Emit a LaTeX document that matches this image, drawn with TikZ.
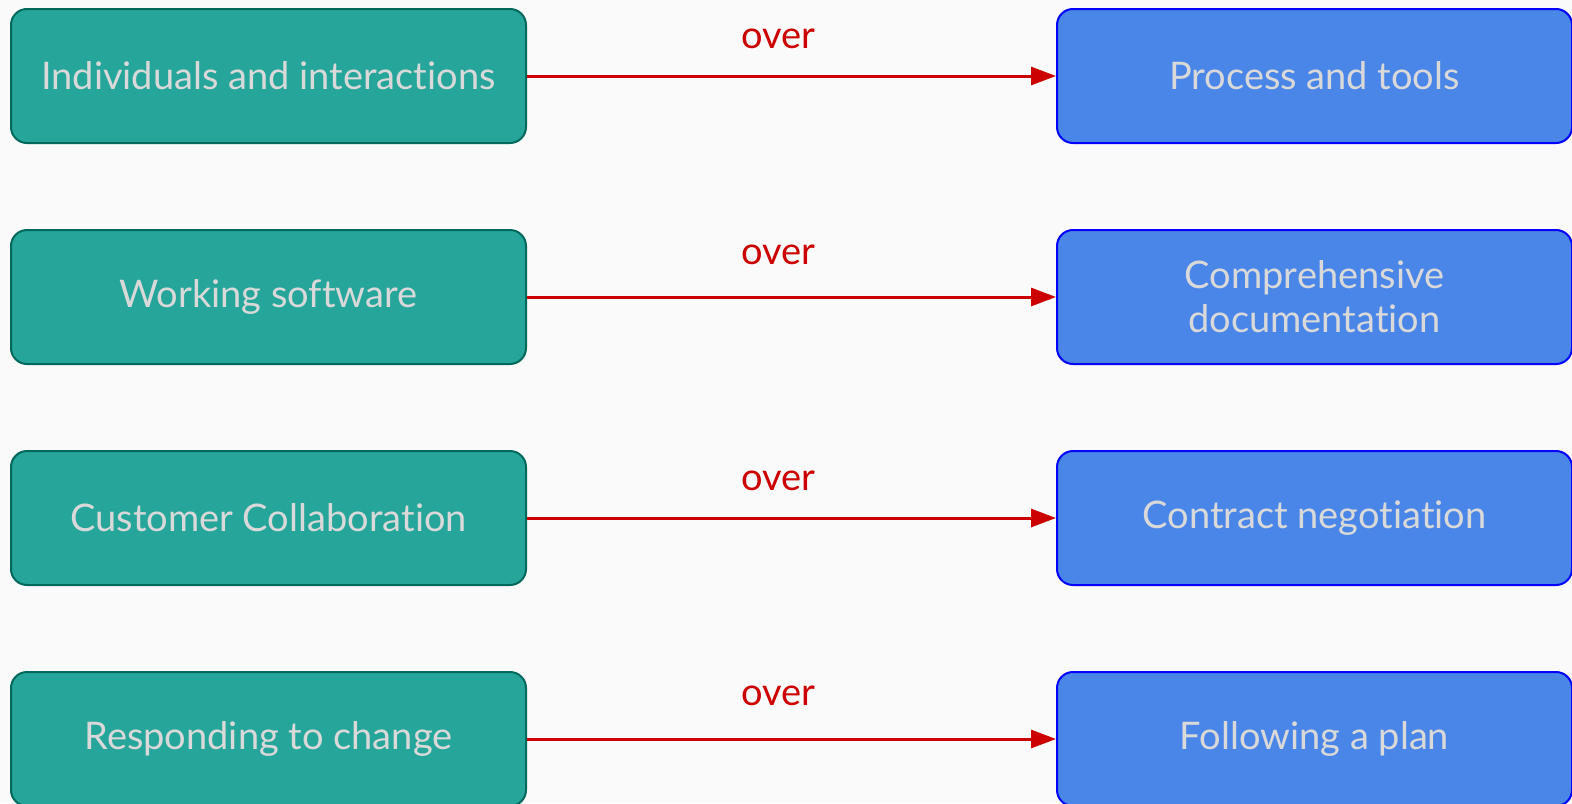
\documentclass[tikz,border=0pt]{standalone}
\usepackage{fontspec}
\setmainfont[Ligatures={NoCommon,NoRare,NoContextual}]{Lato}
\usetikzlibrary{positioning,arrows.meta}

\definecolor{pagebg}{HTML}{FAFAFA}
\definecolor{valfill}{HTML}{26A69A}
\definecolor{valdraw}{HTML}{00695C}
\definecolor{overfill}{HTML}{4A86E8}
\definecolor{overdraw}{HTML}{0000FF}
\definecolor{boxtext}{HTML}{D9D9D9}
\definecolor{overred}{HTML}{CC0000}

\tikzset{
    valuebox/.style={draw=valdraw, fill=valfill, line width=1pt, rounded corners=8pt,
        minimum width=257.5pt, minimum height=67pt, text=boxtext, align=center,
        font=\fontsize{19}{22}\selectfont},
    otherbox/.style={valuebox, draw=overdraw, fill=overfill},
    overarrow/.style={overred, line width=1.5pt, -{Triangle[length=12.5pt,width=9pt]}},
    overlabel/.style={text=overred, font=\fontsize{19}{22}\selectfont}
}

\begin{document}
\begin{tikzpicture}[x=0.5pt,y=-0.5pt]
    \fill[pagebg] (0,0) rectangle (1572,803);
    \useasboundingbox (0,0) rectangle (1572,803);

    % Left column
    \node[valuebox] (L1) at (268.5,76) {Individuals and interactions};
    \node[valuebox, below=42.5pt of L1] (L2) {Working software};
    \node[valuebox, below=42.5pt of L2] (L3) {Customer Collaboration};
    \node[valuebox, below=42.5pt of L3] (L4) {Responding to change};

    % Right column
    \node[otherbox, right=264.5pt of L1] (R1) {Process and tools};
    \node[otherbox, right=264.5pt of L2] (R2) {Comprehensive\\documentation};
    \node[otherbox, right=264.5pt of L3] (R3) {Contract negotiation};
    \node[otherbox, right=264.5pt of L4] (R4) {Following a plan};

    % Arrows
    \foreach \row/\lift in {1/18.5, 2/21, 3/18.5, 4/21.5} {
        \draw[overarrow] (L\row) -- node[overlabel, pos=0.475, yshift=\lift pt] (O\row) {over} (R\row);
    }

\end{tikzpicture}
\end{document}
